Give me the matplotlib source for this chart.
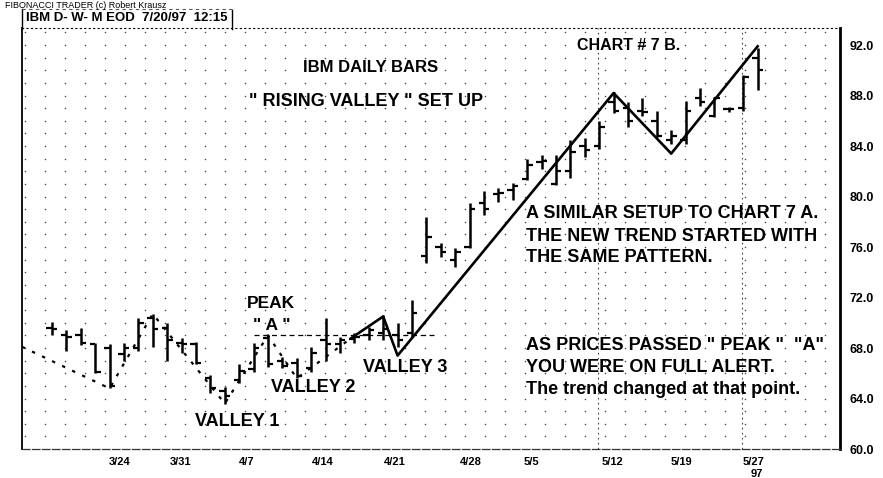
import numpy as np
import matplotlib
matplotlib.use('Agg')
from matplotlib import pyplot as plt
from matplotlib.lines import Line2D

plt.rcParams['font.family'] = ['Liberation Sans', 'DejaVu Sans']

# IBM daily bars, one entry per trading day (3/17/97 .. 5/28/97)
opens = [69.6, 69.0, 69.0, 68.3, 68.0, 67.5, 68.0, 70.4, 69.6, 68.4,
         68.3, 65.6, 64.6, 65.5, 66.3, 68.8, 67.0, 66.8, 66.4, 68.6,
         68.3, 68.7, 69.0, 69.2, 69.0, 69.2, 75.3, 76.0, 75.0, 76.0,
         79.5, 80.2, 80.5, 81.4, 82.7, 81.0, 82.0, 84.0, 84.0, 87.5,
         87.0, 86.8, 86.0, 84.5, 84.5, 87.8, 86.4, 86.9, 87.0, 91.0]
highs = [70.1, 69.4, 69.6, 68.4, 68.3, 68.4, 70.4, 70.7, 70.0, 68.8,
         68.5, 65.9, 64.9, 66.7, 68.4, 69.0, 67.3, 67.2, 68.1, 70.4,
         68.9, 69.2, 69.7, 70.6, 70.0, 71.8, 78.4, 76.3, 75.9, 79.5,
         80.4, 80.7, 81.1, 83.0, 83.3, 83.3, 84.5, 84.6, 86.0, 88.3,
         87.5, 87.8, 86.8, 85.3, 87.6, 88.6, 87.9, 87.1, 89.6, 91.8]
lows = [69.0, 67.8, 68.2, 66.0, 64.8, 67.0, 67.8, 68.1, 67.0, 67.6,
        66.7, 64.4, 63.6, 65.2, 66.1, 66.5, 66.4, 65.6, 66.1, 67.0,
        67.6, 68.4, 68.6, 68.6, 68.1, 68.9, 74.7, 75.2, 74.4, 75.9,
        78.5, 79.6, 79.7, 81.3, 82.2, 80.9, 81.5, 83.1, 83.8, 86.6,
        85.5, 86.4, 84.7, 84.2, 84.2, 87.2, 86.3, 86.7, 86.8, 88.4]
closes = [69.5, 68.9, 68.4, 66.1, 65.0, 68.0, 70.0, 69.5, 68.6, 68.3,
          66.8, 64.8, 64.2, 66.2, 68.0, 66.7, 66.6, 65.8, 67.6, 68.3,
          68.6, 68.9, 69.4, 69.5, 68.6, 70.8, 76.8, 75.6, 75.6, 79.0,
          79.0, 80.3, 80.8, 82.5, 82.8, 82.0, 83.5, 83.7, 85.5, 86.8,
          86.0, 86.7, 84.8, 84.8, 86.8, 87.5, 87.8, 86.9, 89.5, 90.0]

# swing lines (trading-day index, price)
dotted_x = [-2.08, 4, 7, 12, 15, 17, 20.8]
dotted_y = [68.1, 64.8, 70.7, 63.6, 69.0, 65.6, 68.8]
swing_x = [20.8, 23, 24, 39, 43, 49]
swing_y = [68.8, 70.5, 67.4, 88.2, 83.4, 91.9]
peak_a = 69.0

date_pos = [4.7, 8.9, 13.5, 18.8, 23.8, 29.1, 33.3, 38.9, 43.7, 48.7]
date_labels = ['3/24', '3/31', '4/7', '4/14', '4/21', '4/28', '5/5', '5/12', '5/19', '5/27']
price_ticks = [60, 64, 68, 72, 76, 80, 84, 88, 92]

W, H = 883, 478
fig = plt.figure(figsize=(W / 100, H / 100), dpi=100)
ax = fig.add_axes([22 / W, 29 / H, 818 / W, 421 / H])
ax.set_xlim(-2.08, 54.72)
ax.set_ylim(60, 93.35)

# dotted lattice in the background
gx = (np.arange(25, 840, 20) - 52) / 14.4
gy = np.arange(61, 94)
GX, GY = np.meshgrid(gx, gy)
ax.scatter(GX.ravel(), GY.ravel(), s=1.2, color='#444444', lw=0, zorder=0)
for v in [37.9, 47.9]:
    ax.axvline(v, color='#444444', lw=0.8, ls=(0, (1.5, 3)), zorder=0)

# OHLC bars
x = np.arange(len(highs))
ax.vlines(x, lows, highs, color='black', lw=1.8, zorder=3)
ax.hlines(opens, x - 0.38, x, color='black', lw=1.6, zorder=3)
ax.hlines(closes, x, x + 0.38, color='black', lw=1.6, zorder=3)

# swing lines
ax.plot(dotted_x, dotted_y, color='black', lw=1.6, ls=(0, (1.5, 3.5)), zorder=2)
ax.plot(swing_x, swing_y, color='black', lw=1.9, zorder=4)
ax.hlines(peak_a, 14, 26.7, color='black', lw=0.9, ls=(0, (4, 3)), zorder=2)

# axes frame
ax.spines['left'].set_linewidth(1.3)
ax.spines['right'].set_linewidth(2.0)
ax.spines['top'].set_linestyle((0, (1, 3)))
ax.spines['top'].set_linewidth(0.8)
ax.spines['bottom'].set_linestyle((0, (6, 2)))
ax.spines['bottom'].set_linewidth(0.9)
ax.spines['bottom'].set_color('#333333')

ax.yaxis.tick_right()
ax.set_yticks(price_ticks)
ax.set_yticklabels([f'{v}.0' for v in price_ticks], fontsize=9, fontweight='bold')
ax.set_xticks(date_pos)
ax.set_xticklabels(date_labels, fontsize=8, fontweight='bold')
ax.tick_params(axis='y', length=0, pad=7)
ax.tick_params(axis='x', length=0, pad=6)


def ftext(px, py, s, size=13, ha='center', weight='bold'):
    fig.text(px / W, 1 - py / H, s, fontsize=size, ha=ha, va='center', fontweight=weight)


ftext(5, 5, 'FIBONACCI TRADER (c) Robert Krausz', size=6.5, ha='left', weight='normal')
ftext(26, 18, 'IBM D- W- M EOD  7/20/97  12:15', size=9.5, ha='left')
ftext(757, 474, '97', size=8)

ftext(371, 68, 'IBM DAILY BARS', size=12)
ftext(366, 101, '" RISING VALLEY " SET UP')
ftext(629, 45, 'CHART # 7 B.', size=11.5)
ftext(526, 213, 'A SIMILAR SETUP TO CHART 7 A.', ha='left')
ftext(526, 236, 'THE NEW TREND STARTED WITH', ha='left')
ftext(526, 258, 'THE SAME PATTERN.', ha='left')
ftext(526, 345, 'AS PRICES PASSED " PEAK "  "A"', ha='left')
ftext(526, 368, 'YOU WERE ON FULL ALERT.', ha='left')
ftext(526, 390, 'The trend changed at that point.', ha='left')
ftext(271, 304, 'PEAK', size=12.5)
ftext(272, 325, '" A "', size=12.5)
ftext(237, 421, 'VALLEY 1')
ftext(313, 388, 'VALLEY 2')
ftext(405, 367, 'VALLEY 3')

# header box
box = dict(color='black', lw=1.0, transform=fig.transFigure)
fig.add_artist(Line2D([22 / W, 22 / W], [1 - 9 / H, 1 - 29 / H], **box))
fig.add_artist(Line2D([232 / W, 232 / W], [1 - 10 / H, 1 - 29 / H], **box))
fig.add_artist(Line2D([22 / W, 232 / W], [1 - 9 / H, 1 - 9 / H], ls=(0, (3, 3)),
                      color='#555555', lw=0.8, transform=fig.transFigure))

fig.savefig('out.png', dpi=100)
